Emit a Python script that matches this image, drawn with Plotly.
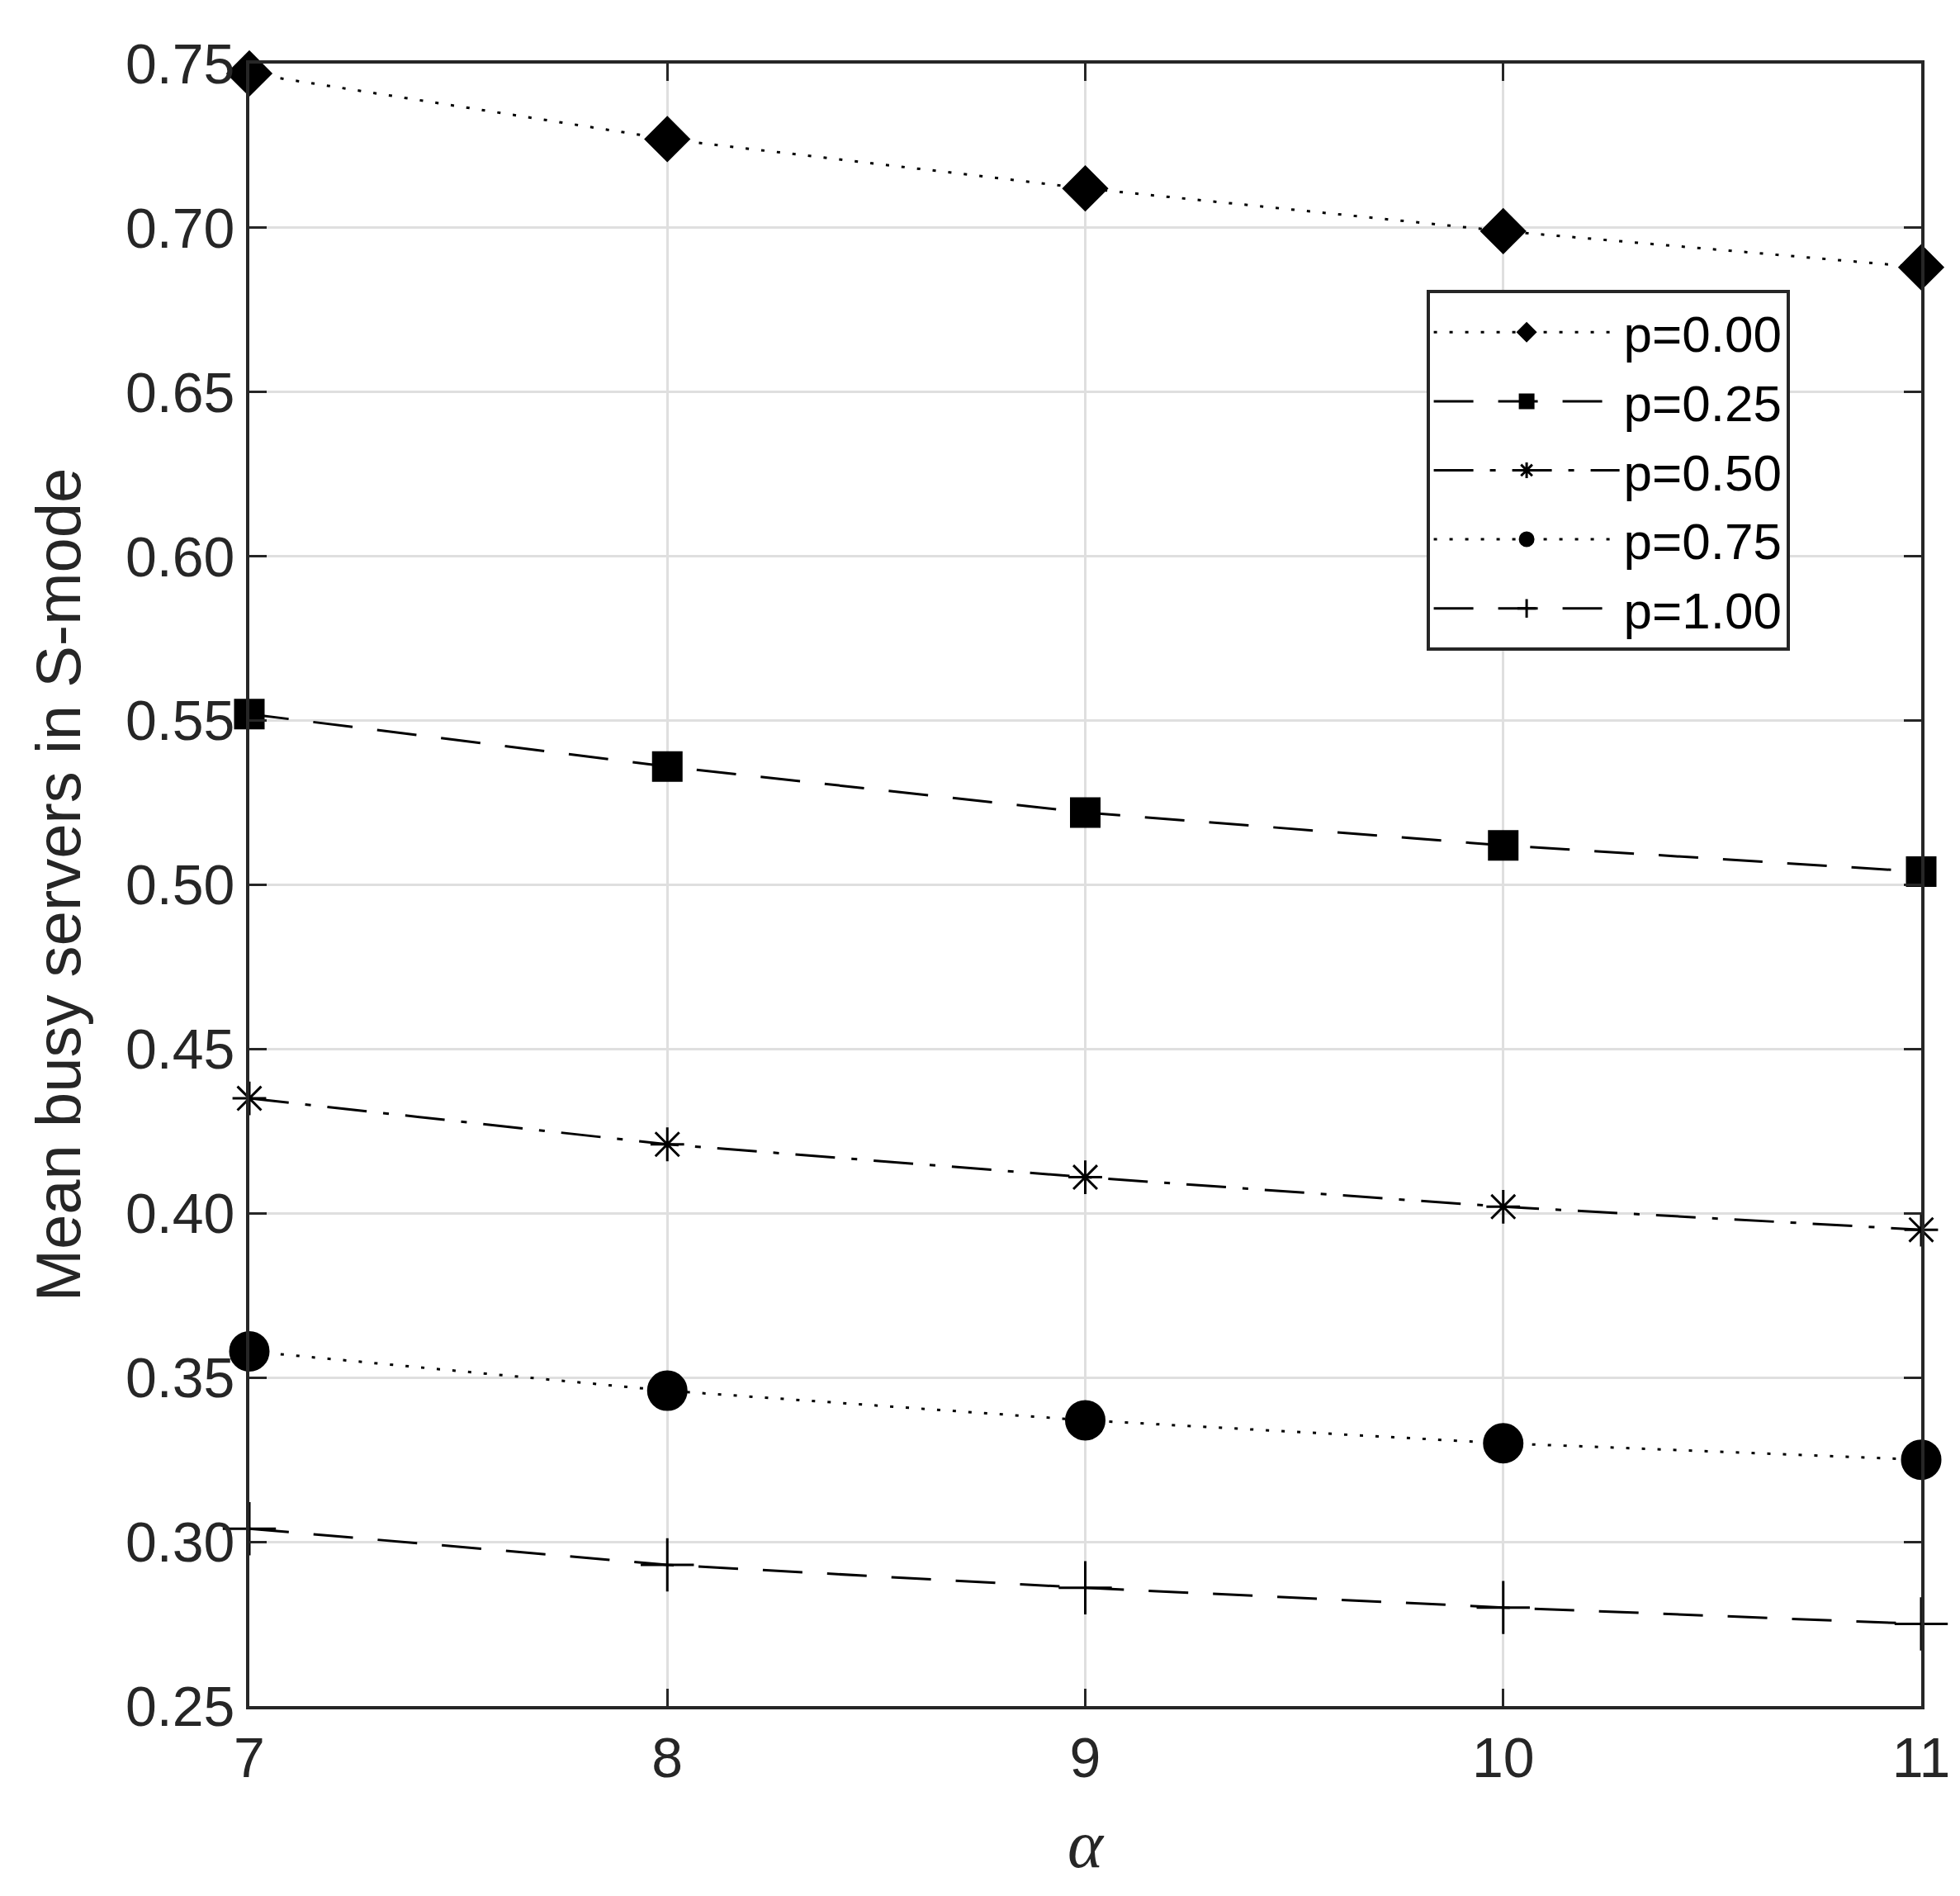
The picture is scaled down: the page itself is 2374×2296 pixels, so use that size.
import plotly.graph_objects as go

# alpha values on the x axis
alpha = [7, 8, 9, 10, 11]

# mean busy servers in S-mode, one list per p
p000 = [0.747, 0.727, 0.712, 0.699, 0.688]
p025 = [0.552, 0.536, 0.522, 0.512, 0.504]
p050 = [0.435, 0.421, 0.411, 0.402, 0.395]
p075 = [0.358, 0.346, 0.337, 0.330, 0.325]
p100 = [0.304, 0.293, 0.286, 0.280, 0.275]

names = ["p=0.00", "p=0.25", "p=0.50", "p=0.75", "p=1.00"]
yticks = [0.25, 0.30, 0.35, 0.40, 0.45, 0.50, 0.55, 0.60, 0.65, 0.70, 0.75]

AX = "#262626"
series = [
    (p000, "diamond", 40, "4px,15px"),
    (p025, "square", 34, "48px,30px"),
    (p050, "asterisk-open", 34, "48px,20px,7px,20px"),
    (p075, "circle", 46, "4px,15px"),
    (p100, "cross-thin-open", 46, "48px,30px"),
]

fig = go.Figure()
for (vals, sym, sz, dash), nm in zip(series, names):
    fig.add_trace(go.Scatter(
        x=alpha, y=vals, name=nm, mode="lines+markers",
        line=dict(color="black", width=3, dash=dash),
        marker=dict(symbol=sym, size=sz, color="black",
                    line=dict(color="black", width=3)),
        cliponaxis=False,
    ))

fig.update_layout(
    width=2374, height=2296,
    margin=dict(l=294, r=55, t=69, b=238),
    paper_bgcolor="white", plot_bgcolor="white",
    font=dict(family="Liberation Sans, Arial", size=68, color=AX),
    showlegend=True,
    legend=dict(
        x=0.704, y=0.862, xanchor="left", yanchor="top",
        bgcolor="white", bordercolor=AX, borderwidth=4,
        font=dict(size=62, color="black"), itemwidth=225,
        tracegroupgap=0,
    ),
)
fig.update_xaxes(
    range=[7, 11], tickvals=alpha, ticktext=[str(a) for a in alpha],
    showgrid=True, gridcolor="#dfdfdf", gridwidth=3,
    showline=True, linecolor=AX, linewidth=4, mirror="ticks",
    ticks="inside", ticklen=21, tickwidth=3, tickcolor=AX,
    ticklabelstandoff=0, zeroline=False,
    title=dict(text="<i>α</i>", font=dict(family="Liberation Serif", size=82, color=AX),
               standoff=40),
)
fig.update_yaxes(
    range=[0.25, 0.75], tickvals=yticks, ticktext=[f"{v:.2f}" for v in yticks],
    showgrid=True, gridcolor="#dfdfdf", gridwidth=3,
    showline=True, linecolor=AX, linewidth=4, mirror="ticks",
    ticks="inside", ticklen=21, tickwidth=3, tickcolor=AX,
    zeroline=False,
    title=dict(text="Mean busy servers in S-mode", font=dict(size=76, color=AX),
               standoff=30),
)

fig.write_html("out.html")
